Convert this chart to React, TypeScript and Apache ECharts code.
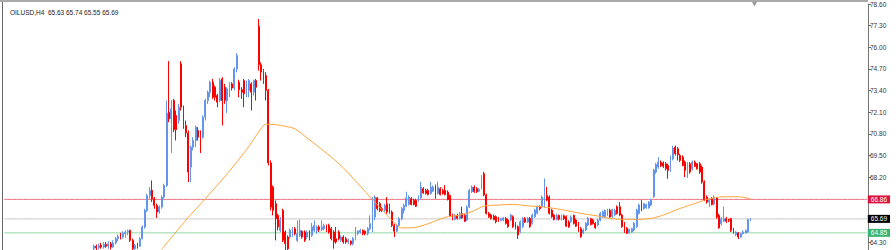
import React, { useEffect, useRef } from "react";
import * as echarts from "echarts";

const TITLE = "OILUSD,H4  65.63 65.74 65.55 65.69";

// [open, close, low, high] per H4 bar, oldest first
const candles: number[][] = [
  [63.9, 64.05, 63.8, 64.15], [64.05, 63.95, 63.7, 64.15], [63.95, 64.1, 63.85, 64.2], [64.1, 64.0, 63.9, 64.25],
  [64.0, 64.15, 63.9, 64.3], [64.15, 64.05, 63.95, 64.3], [64.05, 64.2, 63.9, 64.35], [64.2, 64.0, 63.85, 64.3],
  [64.0, 64.25, 63.95, 64.4], [64.25, 64.5, 64.15, 64.6], [64.5, 64.65, 64.35, 64.75], [64.65, 64.6, 64.45, 64.85],
  [64.6, 64.8, 64.5, 64.95], [64.8, 64.9, 64.55, 65.0], [64.9, 64.95, 64.7, 65.05], [65.0, 64.4, 64.3, 65.05],
  [64.4, 63.9, 63.75, 64.5], [63.9, 64.1, 63.8, 64.2], [64.1, 64.05, 63.9, 64.25], [64.05, 64.5, 64.0, 64.6],
  [64.5, 65.2, 64.45, 65.3], [65.2, 66.2, 65.1, 66.3], [66.2, 67.1, 66.1, 67.2], [67.1, 67.4, 66.9, 67.6],
  [67.4, 66.9, 66.7, 68.0], [66.9, 66.5, 66.3, 67.0], [66.5, 66.1, 65.75, 66.6], [66.1, 66.4, 66.0, 66.5],
  [66.4, 67.0, 66.3, 67.1], [67.0, 67.7, 66.9, 67.8], [67.7, 72.05, 67.6, 72.8], [72.1, 71.7, 71.5, 75.17],
  [71.7, 72.3, 69.65, 72.83], [72.8, 71.05, 70.9, 72.9], [71.9, 71.05, 70.4, 72.2], [71.6, 72.4, 71.4, 72.6],
  [75.0, 72.4, 72.2, 75.17], [72.4, 71.3, 71.1, 72.5], [71.3, 70.85, 70.6, 71.6], [70.85, 68.5, 67.9, 71.0],
  [68.8, 70.0, 67.9, 70.1], [70.0, 70.4, 69.8, 70.6], [70.4, 71.2, 70.0, 71.3], [71.0, 70.6, 70.4, 71.2],
  [70.9, 70.6, 69.65, 71.0], [70.6, 71.8, 70.5, 71.9], [71.8, 72.8, 71.6, 72.9], [72.8, 73.3, 72.6, 73.4],
  [73.3, 73.9, 73.0, 74.0], [73.9, 73.0, 72.9, 74.1], [73.6, 73.0, 72.8, 73.7], [73.1, 72.7, 72.4, 73.2],
  [72.8, 74.0, 72.7, 74.15], [74.1, 72.8, 71.3, 74.2], [73.6, 72.8, 72.6, 73.8], [72.8, 73.5, 72.05, 73.6],
  [73.2, 73.8, 73.0, 73.9], [73.8, 73.55, 73.4, 73.9], [73.55, 74.7, 73.4, 74.8], [74.7, 75.5, 74.5, 75.65],
  [73.9, 73.45, 73.0, 74.05], [73.45, 73.3, 72.9, 73.6], [74.0, 73.2, 72.4, 74.1], [73.2, 73.8, 73.0, 74.0],
  [73.4, 74.0, 73.0, 74.1], [73.8, 73.3, 72.2, 73.9], [73.3, 74.0, 73.1, 74.05], [74.0, 73.6, 72.8, 74.1],
  [77.25, 74.95, 74.6, 77.7], [74.95, 74.5, 74.0, 75.1], [74.6, 74.0, 73.8, 74.7], [74.3, 73.4, 72.8, 74.5],
  [73.4, 69.05, 68.9, 73.5], [69.05, 66.4, 66.2, 69.2], [67.6, 66.2, 65.9, 67.7], [66.6, 65.7, 64.4, 66.8],
  [65.9, 65.2, 65.0, 66.0], [65.0, 65.6, 64.9, 65.8], [66.2, 64.4, 64.3, 66.3], [64.9, 64.2, 63.8, 65.0],
  [64.6, 63.9, 63.8, 64.7], [64.6, 65.0, 64.5, 65.1], [64.7, 65.1, 64.6, 65.2], [65.1, 64.8, 64.7, 65.2],
  [64.4, 64.8, 64.3, 65.6], [64.7, 65.0, 64.6, 65.65], [64.95, 64.6, 64.5, 65.0], [64.9, 64.4, 64.3, 65.0],
  [64.6, 64.9, 64.5, 65.0], [64.9, 64.5, 64.4, 65.0], [64.7, 65.2, 64.6, 65.45], [65.0, 65.3, 64.9, 65.6],
  [65.0, 65.2, 64.8, 65.3], [65.2, 65.05, 64.9, 65.3], [65.05, 65.2, 64.95, 65.6], [65.1, 65.3, 65.0, 65.4],
  [65.3, 65.0, 64.9, 65.35], [65.3, 64.9, 64.8, 65.4], [65.1, 64.5, 64.4, 65.2], [64.9, 64.3, 63.9, 65.0],
  [64.5, 64.3, 64.2, 65.2], [64.9, 64.5, 64.4, 65.0], [64.4, 64.6, 64.3, 64.7], [64.6, 64.3, 64.2, 64.7],
  [64.5, 64.3, 64.2, 64.6], [64.3, 64.4, 64.2, 64.5], [64.35, 64.2, 64.1, 64.4], [64.2, 64.5, 64.1, 64.6],
  [64.5, 64.85, 64.4, 65.2], [64.8, 64.95, 64.7, 65.0], [64.9, 65.0, 64.8, 65.1], [65.0, 64.8, 64.7, 65.05],
  [64.95, 64.8, 64.7, 65.0], [64.8, 65.1, 64.7, 65.2], [65.1, 65.4, 65.0, 65.9], [65.0, 66.9, 64.9, 67.0],
  [65.8, 67.0, 65.6, 67.1], [66.95, 66.3, 66.2, 67.0], [66.6, 66.2, 66.1, 66.7], [66.3, 66.2, 66.1, 66.4],
  [66.2, 66.5, 66.1, 66.6], [66.6, 66.1, 66.0, 67.0], [66.5, 66.1, 66.0, 66.6], [66.1, 65.3, 65.2, 66.2],
  [65.3, 64.95, 64.6, 65.4], [64.95, 65.3, 64.9, 65.4], [65.3, 65.7, 65.2, 65.8], [65.7, 66.3, 65.6, 66.4],
  [66.2, 66.5, 66.0, 66.6], [66.45, 66.95, 66.4, 67.32], [66.55, 67.0, 66.5, 67.1], [66.9, 66.55, 66.5, 67.0],
  [66.8, 66.55, 66.5, 66.9], [66.8, 66.45, 66.4, 66.9], [66.75, 67.0, 66.7, 67.1], [66.95, 67.6, 66.9, 67.92],
  [67.5, 67.25, 67.2, 67.6], [67.4, 67.22, 67.15, 67.5], [67.4, 67.15, 67.1, 67.5], [67.22, 67.6, 67.15, 67.92],
  [67.35, 67.6, 67.3, 67.7], [67.7, 66.95, 66.9, 67.75], [67.22, 67.6, 67.15, 67.92], [67.5, 67.15, 67.1, 67.6],
  [67.4, 67.22, 67.15, 67.5], [67.4, 67.15, 67.1, 67.72], [67.3, 66.85, 66.8, 67.4], [67.1, 65.85, 65.8, 67.15],
  [65.9, 65.65, 65.6, 66.0], [65.65, 65.9, 65.6, 66.0], [65.9, 65.72, 65.65, 66.0], [65.72, 66.0, 65.65, 66.1],
  [66.0, 65.75, 65.7, 66.42], [65.9, 65.55, 65.5, 66.0], [65.62, 66.4, 65.55, 66.5], [66.4, 67.4, 66.35, 67.5],
  [67.32, 67.6, 67.25, 67.7], [67.6, 67.32, 67.25, 67.7], [67.5, 67.32, 67.25, 67.6], [67.35, 67.45, 67.3, 67.55],
  [67.52, 68.2, 67.45, 68.32], [68.4, 67.12, 67.05, 68.52], [67.12, 66.02, 65.95, 67.2], [66.02, 65.82, 65.75, 66.1],
  [65.92, 65.72, 65.65, 66.0], [65.85, 65.65, 65.6, 65.95], [65.82, 65.52, 65.42, 65.9], [65.75, 65.55, 65.5, 65.8],
  [65.6, 65.7, 65.55, 65.75], [65.62, 65.75, 65.55, 65.8], [65.72, 65.42, 65.35, 65.8], [65.62, 65.22, 65.15, 65.7],
  [65.62, 65.92, 65.55, 66.0], [65.82, 65.22, 65.15, 65.9], [65.42, 65.12, 65.05, 65.5], [65.22, 64.72, 64.48, 65.3],
  [64.92, 65.52, 64.85, 65.6], [65.22, 65.72, 65.15, 65.8], [65.7, 65.5, 65.45, 65.8], [65.5, 65.72, 65.45, 65.8],
  [65.72, 65.22, 65.15, 65.8], [65.42, 65.92, 65.35, 66.0], [65.82, 66.22, 65.75, 66.3], [66.02, 66.42, 65.95, 66.5],
  [66.4, 66.3, 66.2, 66.5], [66.42, 67.0, 66.35, 67.1], [66.42, 67.6, 66.35, 68.12], [67.1, 66.82, 66.75, 67.62],
  [67.0, 66.02, 65.95, 67.1], [66.22, 65.82, 65.75, 66.3], [65.92, 65.65, 65.6, 66.0], [65.65, 65.9, 65.6, 66.0],
  [65.9, 65.68, 65.6, 65.95], [65.68, 65.88, 65.6, 65.95], [65.88, 65.7, 65.62, 65.95], [65.82, 65.25, 65.2, 65.9],
  [65.5, 65.22, 65.15, 65.6], [65.52, 65.8, 65.45, 65.9], [65.9, 65.42, 65.35, 65.95], [65.62, 65.25, 65.2, 65.7],
  [65.44, 64.95, 64.9, 65.5], [65.1, 64.62, 64.55, 65.2], [64.84, 65.02, 64.78, 65.1], [65.02, 65.42, 64.95, 65.5],
  [65.32, 65.72, 65.25, 65.8], [65.7, 65.35, 65.3, 65.75], [65.62, 65.4, 65.35, 65.7], [65.42, 65.15, 65.1, 65.5],
  [65.32, 65.62, 65.25, 65.7], [65.62, 66.02, 65.55, 66.1], [65.82, 66.12, 65.75, 66.2], [65.82, 66.2, 65.75, 66.25],
  [65.9, 66.2, 65.85, 66.3], [66.2, 65.8, 65.75, 66.3], [65.82, 66.25, 65.75, 66.3], [65.92, 66.2, 65.85, 66.3],
  [66.42, 66.02, 65.95, 66.5], [66.42, 65.92, 65.85, 66.7], [65.92, 65.22, 65.15, 66.0], [65.42, 64.92, 64.85, 65.5],
  [65.12, 64.82, 64.78, 65.2], [64.85, 65.05, 64.8, 65.1], [64.9, 65.1, 64.85, 65.15], [65.02, 65.42, 64.95, 65.5],
  [65.22, 66.22, 65.15, 66.3], [66.02, 66.52, 65.95, 66.6], [66.72, 66.22, 66.15, 66.82], [66.3, 66.6, 66.25, 66.65],
  [66.35, 66.55, 66.3, 66.6], [66.35, 66.7, 66.3, 66.75], [66.52, 66.82, 66.45, 66.9], [67.02, 68.62, 66.95, 68.7],
  [68.5, 68.95, 68.4, 69.05], [68.8, 69.1, 68.7, 69.4], [69.1, 68.9, 68.8, 69.2], [69.05, 68.85, 68.75, 69.15],
  [69.0, 68.7, 68.6, 69.1], [68.9, 68.6, 68.1, 69.0], [68.6, 69.4, 68.5, 69.5], [69.3, 69.95, 69.2, 70.08],
  [70.0, 69.6, 69.5, 70.1], [69.9, 69.55, 69.2, 70.0], [69.5, 69.2, 69.1, 69.6], [69.4, 68.9, 68.85, 69.5],
  [69.1, 68.6, 68.2, 69.2], [68.6, 69.0, 68.15, 69.1], [69.0, 68.5, 68.4, 69.1], [68.7, 69.1, 68.6, 69.2],
  [69.1, 68.85, 68.8, 69.2], [69.0, 68.7, 68.65, 69.05], [69.0, 68.5, 68.4, 69.1], [68.8, 67.9, 67.8, 68.9],
  [67.9, 66.85, 66.75, 68.0], [67.0, 66.7, 66.6, 67.1], [66.7, 66.8, 66.4, 66.9], [66.9, 66.55, 66.5, 67.0],
  [66.6, 66.95, 66.5, 67.1], [66.95, 65.8, 65.7, 67.0], [65.9, 65.15, 65.1, 66.0], [65.4, 65.7, 65.3, 65.8],
  [65.55, 65.7, 65.5, 66.43], [65.7, 65.55, 65.45, 65.8], [65.65, 65.6, 65.5, 65.7], [65.7, 65.0, 64.9, 65.75],
  [65.1, 64.85, 64.8, 65.15], [64.75, 64.9, 64.65, 64.95], [64.85, 64.6, 64.48, 64.9], [64.6, 64.8, 64.55, 64.85],
  [64.8, 64.9, 64.75, 65.0], [64.85, 65.0, 64.8, 65.05], [64.9, 65.65, 64.85, 65.7], [65.63, 65.69, 65.55, 65.74],
];

// moving average read at [bar index, value]
const maPoints: number[][] = [
  [28, 63.85], [38, 65.62], [46, 66.9], [55, 68.4], [63, 69.85], [68, 70.9], [71, 71.37], [75, 71.35],
  [79, 71.25], [83, 71.1], [88, 70.55], [92, 70.1], [98, 69.4], [103, 68.75], [110, 67.65], [115, 66.85],
  [119, 66.22], [123, 65.62], [127, 65.15], [131, 65.15], [138, 65.4], [145, 65.78], [151, 65.92], [156, 66.12],
  [161, 66.46], [167, 66.52], [173, 66.56], [180, 66.46], [185, 66.42], [194, 66.22], [201, 66.02], [208, 65.86],
  [213, 65.72], [219, 65.66], [224, 65.66], [230, 65.72], [235, 65.92], [242, 66.32], [249, 66.66], [253, 66.86],
  [260, 67.02], [266, 67.02], [271, 66.9],
];

const levelValues = [66.86, 65.69, 64.85];
const levelLineColors = ["#ee6f80", "#c8c8c8", "#8fd6a4"];
const levelTagColors = ["#dc143c", "#000000", "#3cb371"];

const tickValues = [64.3, 65.6, 66.9, 68.2, 69.5, 70.8, 72.1, 73.4, 74.7, 76.0, 77.3, 78.6];
const labelValues = [64.3, 68.2, 69.5, 70.8, 72.1, 73.4, 74.7, 76.0, 77.3, 78.6];

const Y_MIN = 63.82;
const Y_MAX = 78.6;
const LEAD = 37;
const TRAIL = 48;
const FONT = "Liberation Sans";

export default function App() {
  const ref = useRef<HTMLDivElement>(null);
  useEffect(() => {
    if (!ref.current) return;
    const chart = echarts.init(ref.current, undefined, { renderer: "svg" });
    const total = LEAD + candles.length + TRAIL;
    const cats = Array.from({ length: total }, (_, i) => String(i));
    const candleData: any[] = [];
    for (let i = 0; i < LEAD; i++) candleData.push("-");
    candles.forEach((c) => candleData.push(c));
    for (let i = 0; i < TRAIL; i++) candleData.push("-");
    const maData = maPoints.map(([i, v]) => [i + LEAD, v]);

    const levelSeries = levelValues.map((v, i) => ({
      type: "line",
      data: cats.map(() => v),
      silent: true,
      showSymbol: false,
      symbol: "none",
      z: 1,
      color: levelLineColors[i],
      lineStyle: { color: levelLineColors[i], width: 1, type: "solid" },
      endLabel: {
        show: true,
        distance: 1,
        formatter: () => v.toFixed(2),
        color: "#ffffff",
        backgroundColor: levelTagColors[i],
        padding: [1, 3, 0, 3],
        fontSize: 6.5,
        fontFamily: FONT,
      },
    }));

    chart.setOption({
      animation: false,
      backgroundColor: "#ffffff",
      title: {
        text: TITLE,
        left: 5,
        top: 3,
        textStyle: { fontSize: 6.5, fontWeight: "normal", color: "#222", fontFamily: FONT, lineHeight: 8 },
      },
      grid: { left: 3, right: 28, top: 4, bottom: 0, containLabel: false },
      xAxis: {
        type: "category",
        data: cats,
        show: false,
        boundaryGap: true,
      },
      yAxis: {
        type: "value",
        position: "right",
        min: Y_MIN,
        max: Y_MAX,
        splitLine: { show: false },
        axisLine: { show: true, lineStyle: { color: "#777", width: 1 } },
        axisTick: {
          show: true,
          length: 3,
          customValues: tickValues,
          lineStyle: { color: "#666", width: 1 },
        },
        axisLabel: {
          customValues: labelValues,
          formatter: (v: number) => v.toFixed(2),
          fontSize: 6.5,
          color: "#333",
          margin: 2,
          fontFamily: FONT,
        },
      },
      series: [
        ...levelSeries,
        {
          type: "candlestick",
          data: candleData,
          barWidth: 1.4,
          z: 3,
          itemStyle: {
            color: "#6495ED",
            borderColor: "#6495ED",
            color0: "#FF0000",
            borderColor0: "#FF0000",
            borderWidth: 1,
          },
        },
        {
          type: "line",
          data: maData,
          showSymbol: false,
          smooth: 0.3,
          z: 4,
          lineStyle: { color: "#FFA53A", width: 1 },
        },
      ],
      graphic: [
        { type: "rect", shape: { x: 0, y: 0, width: 868, height: 2 }, style: { fill: "#a9a9a9" } },
        { type: "line", shape: { x1: 2.5, y1: 2, x2: 2.5, y2: 250 }, style: { stroke: "#666", lineWidth: 1 } },
        { type: "polygon", shape: { points: [[752, 2], [757, 2], [754.5, 6.5]] }, style: { fill: "#999" } },
      ],
    });
    return () => chart.dispose();
  }, []);
  return (
    <div
      ref={ref}
      style={{ position: "fixed", left: 0, top: 0, width: 896, height: 250 }}
    />
  );
}
